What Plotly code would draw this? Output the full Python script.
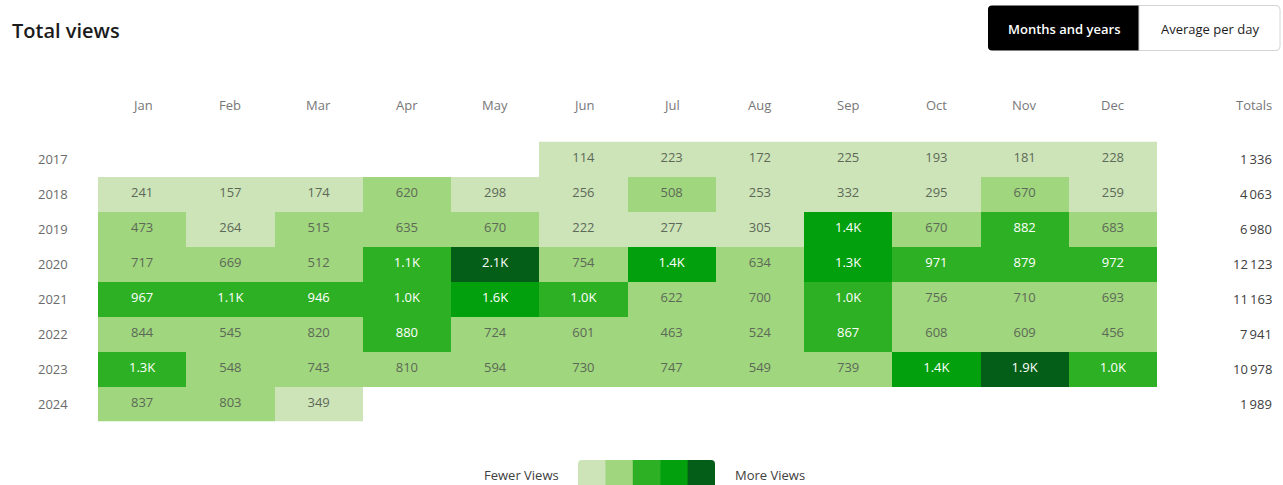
import numpy as np
import plotly.graph_objects as go

# ---------------- data ----------------
months = ["Jan", "Feb", "Mar", "Apr", "May", "Jun", "Jul", "Aug", "Sep", "Oct", "Nov", "Dec"]
years = ["2017", "2018", "2019", "2020", "2021", "2022", "2023", "2024"]

v2017 = [None, None, None, None, None, 114, 223, 172, 225, 193, 181, 228]
v2018 = [241, 157, 174, 620, 298, 256, 508, 253, 332, 295, 670, 259]
v2019 = [473, 264, 515, 635, 670, 222, 277, 305, 1384, 670, 882, 683]
v2020 = [717, 669, 512, 1110, 2120, 754, 1440, 634, 1345, 971, 879, 972]
v2021 = [967, 1090, 946, 1020, 1620, 1015, 622, 700, 1024, 756, 710, 693]
v2022 = [844, 545, 820, 880, 724, 601, 463, 524, 867, 608, 609, 456]
v2023 = [1260, 548, 743, 810, 594, 730, 747, 549, 739, 1380, 1860, 1018]
v2024 = [837, 803, 349, None, None, None, None, None, None, None, None, None]
rows = [v2017, v2018, v2019, v2020, v2021, v2022, v2023, v2024]

level_thresholds = [400, 855, 1300, 1750]
palette = ["#cde4b9", "#a0d67d", "#2eb024", "#03a00d", "#055e17"]
legend_left, legend_right = "Fewer Views", "More Views"
title = "Total views"
buttons = ["Months and years", "Average per day"]

# ---------------- helpers ----------------
W, H = 1283, 485
def px(x):
    return x / W
def py(y):
    return 1 - y / H

def fmt_cell(v):
    return f"{v/1000:.1f}K" if v >= 1000 else f"{v}"

def fmt_total(v):
    return f"{v:,}".replace(",", "\u2009")

def rrect(x0, y0, x1, y1, r, tl=True, tr=True, br=True, bl=True):
    rt = r if tl else 0
    rr = r if tr else 0
    rb = r if br else 0
    rl = r if bl else 0
    p = f"M {px(x0+rt)} {py(y0)} L {px(x1-rr)} {py(y0)} "
    p += f"Q {px(x1)} {py(y0)} {px(x1)} {py(y0+rr)} " if rr else ""
    p += f"L {px(x1)} {py(y1-rb)} "
    p += f"Q {px(x1)} {py(y1)} {px(x1-rb)} {py(y1)} " if rb else ""
    p += f"L {px(x0+rl)} {py(y1)} "
    p += f"Q {px(x0)} {py(y1)} {px(x0)} {py(y1-rl)} " if rl else ""
    p += f"L {px(x0)} {py(y0+rt)} "
    p += f"Q {px(x0)} {py(y0)} {px(x0+rt)} {py(y0)} " if rt else ""
    return p + "Z"

# ---------------- derived ----------------
z = []
for r in rows:
    z.append([None if v is None else int(np.digitize(v, level_thresholds)) for v in r])
n = len(palette)
colorscale = []
for i, c in enumerate(palette):
    colorscale += [[i / n, c], [(i + 1) / n, c]]

tx, ty, tt, tc = [], [], [], []
for yi, r in enumerate(rows):
    for xi, v in enumerate(r):
        if v is None:
            continue
        tx.append(months[xi]); ty.append(years[yi]); tt.append(fmt_cell(v))
        lvl = int(np.digitize(v, level_thresholds))
        tc.append("#ffffff" if lvl >= 2 else "#5d6958")

totals = [sum(v for v in r if v is not None) for r in rows]

FONT = "Open Sans"
fig = go.Figure()
fig.add_trace(go.Heatmap(
    x=months, y=years, z=z, colorscale=colorscale, zmin=-0.5, zmax=n - 0.5,
    showscale=False, hoverinfo="skip", xgap=0, ygap=0,
))
fig.add_trace(go.Scatter(
    x=tx, y=ty, text=tt, mode="text",
    textfont=dict(family=FONT, size=13, color=tc), hoverinfo="skip", showlegend=False,
))

# table area
gx0, gx1, gy0, gy1 = 98, 1157, 141.5, 421.5
fig.update_layout(
    width=W, height=H, margin=dict(l=0, r=0, t=0, b=0),
    paper_bgcolor="white", plot_bgcolor="white", showlegend=False,
    xaxis=dict(domain=[px(gx0), px(gx1)], range=[-0.5, 11.5], showticklabels=False,
               showgrid=False, zeroline=False, fixedrange=True, type="category"),
    yaxis=dict(domain=[py(gy1), py(gy0)], range=[7.5, -0.5], showticklabels=False,
               showgrid=False, zeroline=False, fixedrange=True, type="category"),
    font=dict(family=FONT),
)

ann = []
# title
ann.append(dict(text=title, x=px(10), y=py(30), xref="paper", yref="paper", xanchor="left",
                yanchor="middle", showarrow=False, font=dict(family=FONT, size=20, color="#1b1b1b", weight=600)))
# month headers
for mi, m in enumerate(months):
    ann.append(dict(text=m, x=mi, xref="x", y=py(105), yref="paper", showarrow=False,
                    xanchor="center", yanchor="middle", font=dict(size=13, color="#777777")))
ann.append(dict(text="Totals", x=px(1274), xref="paper", y=py(105), yref="paper", showarrow=False,
                xanchor="right", yanchor="middle", font=dict(size=13, color="#777777")))
# year labels & totals
for yi, (yv, t) in enumerate(zip(years, totals)):
    ann.append(dict(text=yv, x=px(53), xref="paper", y=yi, yref="y", showarrow=False,
                    xanchor="center", yanchor="middle", font=dict(size=13, color="#6b6b6b")))
    ann.append(dict(text=fmt_total(t), x=px(1274), xref="paper", y=yi, yref="y", showarrow=False,
                    xanchor="right", yanchor="middle", font=dict(size=13, color="#404040")))
# buttons
shapes = []
shapes.append(dict(type="path", path=rrect(988, 5.5, 1139, 50.5, 4, tr=False, br=False),
                   xref="paper", yref="paper", fillcolor="#000000", line=dict(width=0)))
shapes.append(dict(type="path", path=rrect(1139, 5.5, 1280, 50.5, 4, tl=False, bl=False),
                   xref="paper", yref="paper", fillcolor="#ffffff", line=dict(width=1, color="#d4d4d4")))
ann.append(dict(text=buttons[0], x=px(1063.5), y=py(28.5), xref="paper", yref="paper", showarrow=False,
                xanchor="center", yanchor="middle", font=dict(size=13, color="#ffffff", weight=600)))
ann.append(dict(text=buttons[1], x=px(1209.5), y=py(28.5), xref="paper", yref="paper", showarrow=False,
                xanchor="center", yanchor="middle", font=dict(size=13, color="#1b1b1b", weight=500)))
# color legend
lx0, sw = 578, 27.4
for i, c in enumerate(palette):
    x0 = lx0 + i * sw
    shapes.append(dict(type="path",
                       path=rrect(x0, 460, x0 + sw + (0 if i == n - 1 else 0.5), 492, 4,
                                  tl=(i == 0), bl=(i == 0), tr=(i == n - 1), br=(i == n - 1)),
                       xref="paper", yref="paper", fillcolor=c, line=dict(width=0)))
ann.append(dict(text=legend_left, x=px(561), y=py(475), xref="paper", yref="paper", showarrow=False,
                xanchor="right", yanchor="middle", font=dict(size=13, color="#404040")))
ann.append(dict(text=legend_right, x=px(733), y=py(475), xref="paper", yref="paper", showarrow=False,
                xanchor="left", yanchor="middle", font=dict(size=13, color="#404040")))

fig.update_layout(annotations=ann, shapes=shapes)
fig.write_html("out.html", config={"displayModeBar": False},
               post_script="document.body.style.margin='0';document.body.style.overflow='hidden';")
